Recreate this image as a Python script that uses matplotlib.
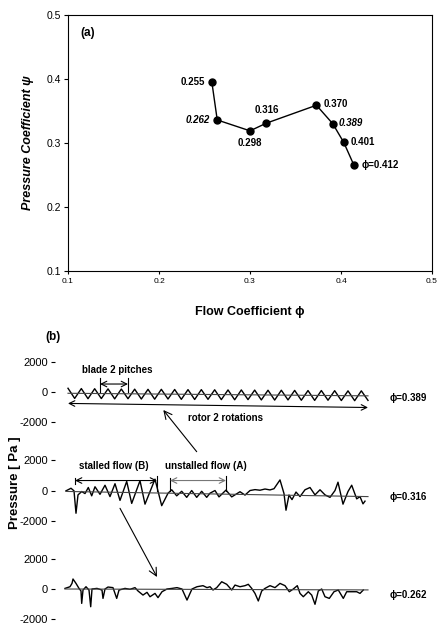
import numpy as np
import matplotlib
matplotlib.use("Agg")
import matplotlib.pyplot as plt

plt.rcParams['font.family'] = ['Liberation Sans', 'DejaVu Sans']

# ---- panel (a): characteristic curve ----
phi = [0.258, 0.264, 0.300, 0.318, 0.373, 0.391, 0.403, 0.414]
psi = [0.396, 0.336, 0.319, 0.331, 0.359, 0.330, 0.301, 0.266]
pt_labels = ['0.255', '0.262', '0.298', '0.316', '0.370', '0.389', '0.401', '\u03d5=0.412']
pt_italic = [False, True, False, False, False, True, False, False]

# ---- panel (b): pressure traces [Pa] ----
# phi = 0.389 : regular blade passing, alternating peaks / troughs
vals1 = [250, -420, 230, -440, 220, -430, 210, -450, 200, -440, 190, -460, 180, -470,
         180, -460, 170, -480, 160, -490, 160, -480, 150, -500, 140, -510, 140, -500,
         130, -520, 120, -530, 120, -520, 110, -540, 100, -550, 100, -540,
         90, -560, 80, -570, 80, -550]
t1 = np.linspace(0, 300, len(vals1))

# phi = 0.316
t2 = [-2, 3, 6, 8, 10, 13.7, 17, 20.3, 23.7, 27, 32, 37, 42, 47, 52, 58.7, 63.7,
      72, 77, 87, 93.7, 100, 103.7, 108.7, 113.7, 118.7, 123.7, 128.7, 133.7,
      138.7, 142, 147, 151, 158, 163.7, 172, 177, 182, 187, 192, 197, 202, 206,
      212, 216, 218, 221, 224, 228, 232, 237, 242, 247, 252, 257, 262, 267,
      270, 275, 280, 283.7, 288.7, 292, 295, 297]
vals2 = [-20, 150, -20, -1500, -290, -66, -200, 200, -350, 250, -250, 350, -400,
         450, -650, 600, -850, 650, -900, 750, -1000, -180, 50, -350, -50, -450,
         0, -450, -50, -450, -176, 0, -420, 30, -420, -80, -300, 0, 60,
         20, 100, 40, 120, 700, -200, -1300, -300, -600, -100, -400, 50, 200,
         -286, 50, -286, -450, 0, 550, -900, -66, 350, -550, -400, -880, -700]

# phi = 0.262
t3 = [-3, 2, 4, 5, 8, 11, 13, 13.7, 15, 18, 21, 22.7, 24, 29, 34, 35, 37, 40, 45,
      48.7, 51, 57, 62, 67, 70, 75, 79, 82, 87, 90, 94, 99, 104, 109, 114, 119,
      124, 129, 135, 139, 142, 145, 148.7, 153.7, 158.7, 163.7, 167, 172, 177,
      180.3, 183.7, 187, 190.3, 193.7, 197, 202, 207, 212, 217, 221.3, 225.3,
      229.3, 232, 235.3, 240.3, 243.7, 247, 250.3, 253.7, 257, 261.3, 266,
      270.3, 275.3, 278.7, 283.7, 288.7, 292, 295.3]
vals3 = [40, 150, 370, 660, 370, 40, -130, -950, -70, 150, -70, -1170, 0, 40,
         -70, -620, 0, 130, 90, -620, -70, 40, -20, 90, -130, -400, -220, -510,
         -290, -570, -180, 0, 40, 90, 0, -730, 0, 150, 220, 90, 150, -66, 88,
         480, 310, -66, 260, 150, 220, 310, 40, -290, -790, -130, 40, 220, 90,
         370, 220, -180, 0, 220, -290, -510, -180, -400, -1010, -130, 0, -510,
         -620, -180, -66, -620, -180, -180, -180, -290, -66]

base1 = [-80, -250]
base2 = [-60, -400]
base3 = [0, -60]
trace_phi = ['\u03d5=0.389', '\u03d5=0.316', '\u03d5=0.262']
offsets = [13000, 6500, 0]

fig = plt.figure(figsize=(4.4, 6.25), dpi=100)

# ================= (a) =================
ax1 = fig.add_axes([68/440, 1-271/625, 364/440, 256/625])
ax1.plot(phi, psi, color='black', lw=1.0, marker='o', ms=5)
ax1.set_xlim(0.1, 0.5)
ax1.set_ylim(0.1, 0.5)
ax1.set_xticks([0.1, 0.2, 0.3, 0.4, 0.5])
ax1.set_yticks([0.1, 0.2, 0.3, 0.4, 0.5])
ax1.tick_params(axis='x', labelsize=6, length=2, pad=3)
ax1.tick_params(axis='y', labelsize=7.5, length=3, pad=2)
for s in ax1.spines.values():
    s.set_linewidth(0.8)

offs = [(-7, 0, 'right'), (-7, 0, 'right'), (0, -12, 'center'), (0, 13, 'center'),
        (7, 1, 'left'), (6, 1, 'left'), (7, 0, 'left'), (8, 0, 'left')]
for x, y, lab, it, (dx, dy, ha) in zip(phi, psi, pt_labels, pt_italic, offs):
    ax1.annotate(lab, (x, y), xytext=(dx, dy), textcoords='offset pixels',
                 ha=ha, va='center', fontsize=7, fontweight='bold',
                 style='italic' if it else 'normal')

ax1.text(0.033, 0.93, '(a)', transform=ax1.transAxes, fontsize=8.5,
         fontweight='bold', va='center')
ax1.set_ylabel('Pressure Coefficient \u03c8', fontsize=9, fontweight='bold',
               style='italic', labelpad=9)
ax1.set_xlabel('Flow Coefficient \u03d5', fontsize=9, fontweight='bold', labelpad=15)

# ================= (b) =================
ax2 = fig.add_axes([55/440, 0, 385/440, 290/625])
ax2.set_xlim(-13, 372)
ax2.set_ylim(-2376, 16766)
for s in ax2.spines.values():
    s.set_visible(False)
ax2.set_xticks([])

ticks, tlabs = [], []
for o in offsets:
    ticks += [o - 2000, o, o + 2000]
    tlabs += ['-2000', '0', '2000']
ax2.set_yticks(ticks)
ax2.set_yticklabels(tlabs)
ax2.tick_params(axis='y', labelsize=8, length=3, pad=2, width=0.8)

traces = [(t1, vals1, base1), (t2, vals2, base2), (t3, vals3, base3)]
for (t, v, b), o, lab in zip(traces, offsets, trace_phi):
    ax2.plot(t, np.array(v) + o, color='black', lw=1.0, solid_joinstyle='round')
    ax2.plot([t[0], 300], np.array(b) + o, color='#444444', lw=0.8)
    ax2.text(322, o - 400, lab, fontsize=7, fontweight='bold', va='center')

arr = dict(arrowstyle='<->', lw=0.8, color='black', shrinkA=0, shrinkB=0)
o1, o2 = offsets[0], offsets[1]

# blade 2 pitches
ax2.plot([32, 32], [o1, o1 + 930], color='black', lw=0.8)
ax2.plot([60, 60], [o1, o1 + 930], color='black', lw=0.8)
ax2.annotate('', xy=(32, o1 + 530), xytext=(60, o1 + 530), arrowprops=arr)
ax2.text(49.5, o1 + 1450, 'blade 2 pitches', fontsize=7, fontweight='bold',
         ha='center', va='center')

# rotor 2 rotations
ax2.annotate('', xy=(0, o1 - 750), xytext=(300, o1 - 1020), arrowprops=arr)
ax2.text(157, o1 - 1700, 'rotor 2 rotations', fontsize=7, fontweight='bold',
         ha='center', va='center')

# stalled / unstalled
ax2.plot([7, 7], [o2 + 400, o2 + 850], color='black', lw=0.8)
ax2.plot([89, 89], [o2, o2 + 950], color='black', lw=0.8)
ax2.plot([102, 102], [o2 - 50, o2 + 850], color='black', lw=0.8)
ax2.plot([158, 158], [o2, o2 + 950], color='black', lw=0.8)
ax2.annotate('', xy=(7, o2 + 660), xytext=(89, o2 + 660), arrowprops=arr)
arr_g = dict(arr, color='#777777')
ax2.annotate('', xy=(102, o2 + 660), xytext=(158, o2 + 660), arrowprops=arr_g)
ax2.text(46, o2 + 1650, 'stalled flow (B)', fontsize=7, fontweight='bold',
         ha='center', va='center')
ax2.text(138, o2 + 1650, 'unstalled flow (A)', fontsize=7, fontweight='bold',
         ha='center', va='center')

# long arrows between traces
big = dict(arrowstyle='->', lw=0.8, color='black', mutation_scale=14,
           shrinkA=0, shrinkB=0)
ax2.annotate('', xy=(95.3, 11815), xytext=(128.7, 9063), arrowprops=big)
ax2.annotate('', xy=(89, 792), xytext=(52, 5327), arrowprops=big)

ax2.text(-23, 16634, '(b)', fontsize=8.5, fontweight='bold', va='center')

fig.text(15/440, 1 - 483/625, 'Pressure [ Pa ]', rotation=90, fontsize=9.5,
         fontweight='bold', ha='center', va='center')

fig.savefig('out.png', dpi=100)
